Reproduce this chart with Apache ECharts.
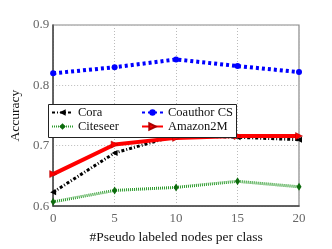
<!DOCTYPE html>
<html><head><meta charset="utf-8">
<script src="https://cdn.jsdelivr.net/npm/echarts@6/dist/echarts.min.js"></script>
<style>html,body{margin:0;padding:0;background:#fff}#c{width:332px;height:249px}</style>
</head><body><div id="c"></div>
<script>
var xTicks = [0, 5, 10, 15, 20];
var cora = [0.623, 0.688, 0.717, 0.714, 0.710];
var citeseer = [0.607, 0.626, 0.631, 0.641, 0.632];
var coauthor = [0.820, 0.830, 0.843, 0.832, 0.822];
var amazon = [0.653, 0.702, 0.713, 0.716, 0.716];
var yMin = 0.6, yMax = 0.9, yStep = 0.1;

function pairs(v){ return v.map(function(y,i){ return [xTicks[i], y]; }); }
var serif = 'Liberation Serif';
var chart = echarts.init(document.getElementById('c'), null, {renderer:'canvas'});
chart.setOption({
  animation:false,
  backgroundColor:'#fff',
  grid:{left:43, right:33, top:25, bottom:34, show:true, borderColor:'#888', borderWidth:1.2},
  xAxis:{type:'value', min:0, max:20, interval:5,
    axisLine:{show:true, lineStyle:{color:'#444', width:1.5}},
    axisTick:{show:false},
    axisLabel:{color:'#666', fontFamily:serif, fontSize:13, margin:6},
    splitLine:{show:true, lineStyle:{color:'#bbb', type:[1,2], width:1}},
    name:'#Pseudo labeled nodes per class', nameLocation:'middle', nameGap:23,
    nameTextStyle:{color:'#111', fontFamily:serif, fontSize:13.5}},
  yAxis:{type:'value', min:yMin, max:yMax, interval:yStep,
    axisLine:{show:true, lineStyle:{color:'#444', width:1.5}},
    axisTick:{show:false},
    axisLabel:{color:'#666', fontFamily:serif, fontSize:13, margin:4, formatter:function(v){return v.toFixed(1);}},
    splitLine:{show:true, lineStyle:{color:'#bbb', type:[1,2], width:1}},
    name:'Accuracy', nameLocation:'middle', nameGap:24,
    nameTextStyle:{color:'#111', fontFamily:serif, fontSize:13.5}},
  legend:[
    {orient:'vertical', left:51, top:106, padding:0, itemWidth:21, itemHeight:8, itemGap:1, z:30, zlevel:2,
     data:['Cora','Citeseer'], textStyle:{fontFamily:serif, fontSize:12.5, color:'#111'}},
    {orient:'vertical', left:141, top:106, padding:0, itemWidth:21, itemHeight:8, itemGap:1, z:30, zlevel:2,
     data:['Coauthor CS','Amazon2M'], textStyle:{fontFamily:serif, fontSize:12.5, color:'#111'}}
  ],
  graphic:{zlevel:1, z:1, elements:[{type:'rect', left:48, top:104, shape:{width:188, height:33},
    style:{fill:'#fff', stroke:'#222', lineWidth:1}, zlevel:1}]},
  series:[
    {name:'Coauthor CS', type:'line', data:pairs(coauthor), symbol:'circle', symbolSize:6,
     lineStyle:{color:'#0000ff', width:4, type:[3,3]}, itemStyle:{color:'#0000ff'}, z:3},
    {name:'Citeseer', type:'line', data:pairs(citeseer), symbol:'diamond', symbolSize:[5,8],
     lineStyle:{color:'#2a9a2a', width:3, type:[1,1]}, itemStyle:{color:'#0d6b0d'}, z:3},
    {name:'Cora', type:'line', data:pairs(cora), symbol:'triangle', symbolRotate:90, symbolSize:6,
     lineStyle:{color:'#000', width:3, type:[3,2,1,2]}, itemStyle:{color:'#000'}, z:4},
    {name:'Amazon2M', type:'line', data:pairs(amazon), symbol:'triangle', symbolRotate:-90, symbolSize:7,
     lineStyle:{color:'#ff0000', width:4}, itemStyle:{color:'#ff0000', borderColor:'#a00', borderWidth:0.5}, z:5}
  ]
});
</script></body></html>
